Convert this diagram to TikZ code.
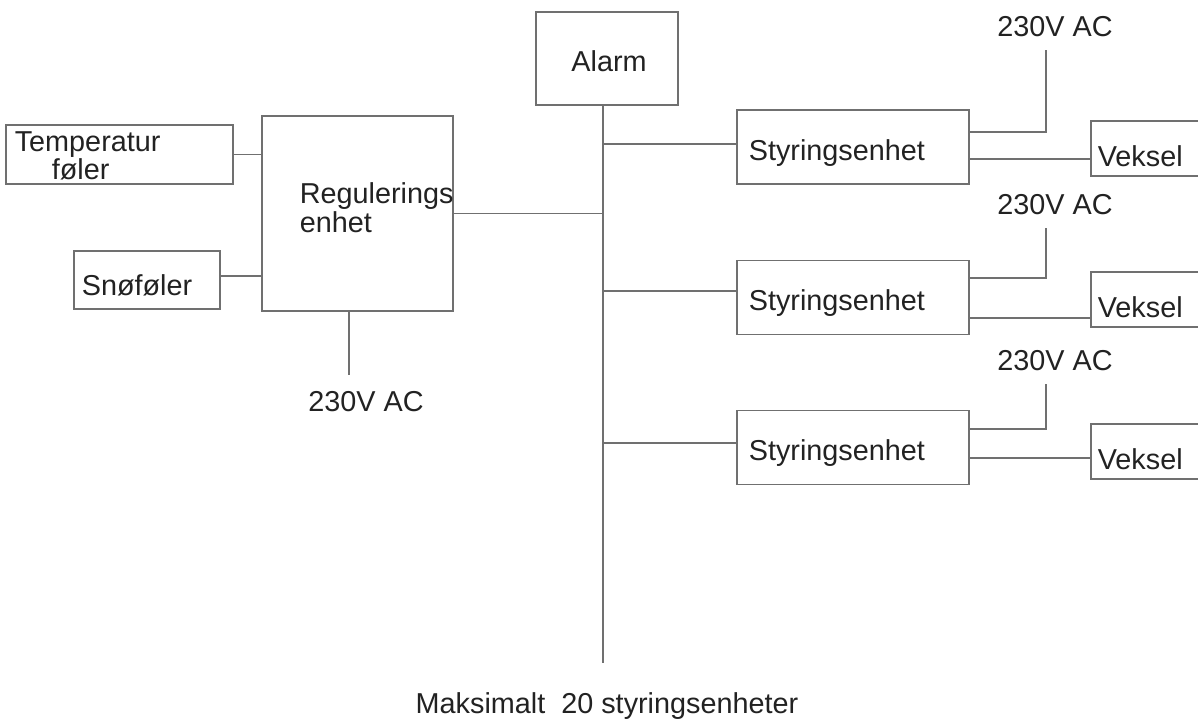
\documentclass[tikz,border=0pt]{standalone}
\usepackage{fontspec}
\setmainfont{Liberation Sans}
\usetikzlibrary{positioning}
\definecolor{linegray}{HTML}{707070}
\definecolor{inktext}{HTML}{222222}

\begin{document}
\begin{tikzpicture}[x=0.5pt,y=-0.5pt,
  box/.style={draw=linegray,line width=0.6pt,inner sep=0pt},
  lbl/.style={text=inktext,font=\fontsize{14.4}{14.5}\selectfont,
              inner sep=0pt,align=left},
  wire/.style={draw=linegray,line width=0.6pt}]
\clip (0,0) rectangle (1198,719);
% sensors and controller
\node[box,minimum width=113.5pt,minimum height=29.5pt] (temp) at (119.5,154.5) {};
\node[lbl,anchor=west] (temptext) at ([xshift=4.5pt,yshift=-0.5pt]temp.west)
  {Temperatur\\[-0.5pt]\hspace*{18.5pt}føler};
\node[box,minimum width=73pt,minimum height=29pt] (snow) at (147,280) {};
\node[lbl,anchor=west] (snowtext) at ([xshift=4pt,yshift=-2.5pt]snow.west) {Snøføler};
\node[box,minimum width=95.5pt,minimum height=97.5pt] (reg) at (357.5,213.5) {};
\node[lbl,anchor=west] (regtext) at ([xshift=19pt,yshift=3pt]reg.west)
  {Regulerings\\enhet};
\node[lbl] (acreg) at (366,402) {230V AC};
\coordinate (regfeed) at (349,375);
\draw[wire] (temp.east) -- (temp.east -| reg.west);
\draw[wire] ([yshift=2pt]snow.east) -- ([yshift=2pt]snow.east -| reg.west);
\draw[wire] (regfeed |- reg.south) -- (regfeed);
% alarm and bus
\node[box,minimum width=71pt,minimum height=46.5pt] (alarm) at (607,58.5) {};
\node[lbl] (alarmtext) at ([xshift=1pt,yshift=-1.5pt]alarm.center) {Alarm};
\coordinate (busend) at (603,663);
\draw[wire] (alarm.south -| busend) -- (busend);
\draw[wire] (reg.east) -- (reg.east -| busend);
\node[lbl] (maxtext) at (607,706) {Maksimalt\ \ 20 styringsenheter};
% control units
\foreach \i/\sy/\vy/\ay/\bo/\po/\lo in {1/147/148.5/27/1.5/7.5/-6,
                                     2/297.5/299.5/205/3.25/9.75/-10.25,
                                     3/447.5/451.5/361/2.25/9.25/-5.25}{
  \node[box,minimum width=116pt,minimum height=37pt] (styr\i) at (853,\sy) {};
  \node[lbl,anchor=west] (styrtext\i) at ([xshift=6pt,yshift=-3pt]styr\i.west) {Styringsenhet};
  \node[box,minimum width=60pt,minimum height=27.5pt] (veks\i) at (1151,\vy) {};
  \node[lbl,anchor=west] (vekstext\i) at ([xshift=3.5pt,yshift=-4pt]veks\i.west) {Veksel};
  \node[lbl] (ac\i) at (1055,\ay) {230V AC};
  \coordinate (feed\i) at (1046,\ay+23);
  \draw[wire] ([yshift=\bo pt]styr\i.west -| busend) -- ([yshift=\bo pt]styr\i.west);
  \draw[wire] ([yshift=\po pt]styr\i.east) -| (feed\i);
  \draw[wire] ([yshift=\lo pt]styr\i.east) -- ([yshift=\lo pt]styr\i.east -| veks\i.west);
}
\end{tikzpicture}
\end{document}
